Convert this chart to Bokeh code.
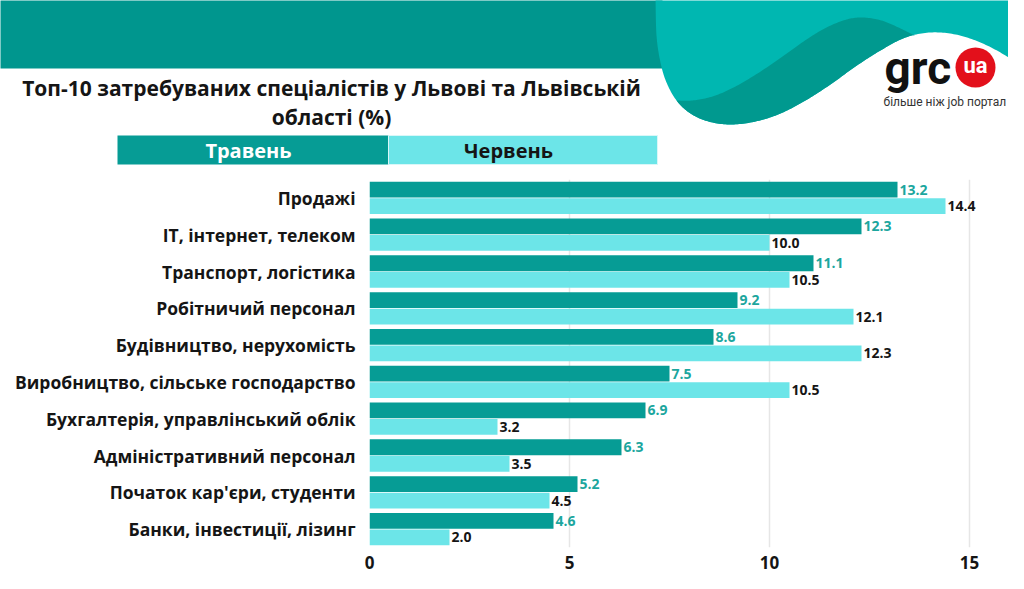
import numpy as np
from bokeh.plotting import figure
from bokeh.models import ColumnDataSource, FactorRange, Range1d, FixedTicker
from bokeh.transform import dodge
from bokeh.core.properties import value
from bokeh.embed import file_html
from bokeh.resources import INLINE

# ---------------- data ----------------
categories = ["Продажі", "IT, інтернет, телеком", "Транспорт, логістика",
              "Робітничий персонал", "Будівництво, нерухомість",
              "Виробництво, сільське господарство",
              "Бухгалтерія, управлінський облік", "Адміністративний персонал",
              "Початок кар'єри, студенти", "Банки, інвестиції, лізинг"]
may = [13.2, 12.3, 11.1, 9.2, 8.6, 7.5, 6.9, 6.3, 5.2, 4.6]
june = [14.4, 10.0, 10.5, 12.1, 12.3, 10.5, 3.2, 3.5, 4.5, 2.0]
series_names = ["Травень", "Червень"]
x_ticks = [0, 5, 10, 15]
title_lines = ["Топ-10 затребуваних спеціалістів у Львові та Львівській", "області (%)"]

# ---------------- styles ----------------
FONT = "Open Sans"
DARK = "#069C95"
LIGHT = "#6CE5E8"
BAND = "#00968E"
LOBE = "#00B7B1"
WAVE = "#00998F"
VAL_DARK = "#1CA69E"
TXT = "#151515"

W = 1008
H_TOP = 176
H_BOT = 573 - H_TOP


def smooth(pts, n=14):
    P = np.array(pts, float)
    P = np.vstack([P[0], P, P[-1]])
    out = []
    t = np.linspace(0, 1, n, endpoint=False)[:, None]
    for i in range(1, len(P) - 2):
        p0, p1, p2, p3 = P[i - 1], P[i], P[i + 1], P[i + 2]
        seg = 0.5 * ((2 * p1) + (-p0 + p2) * t + (2 * p0 - 5 * p1 + 4 * p2 - p3) * t ** 2
                     + (-p0 + 3 * p1 - 3 * p2 + p3) * t ** 3)
        out.append(seg)
    out.append(P[-2][None, :])
    return np.vstack(out)


# ---------------- top (header) figure, pixel coordinates ----------------
top = figure(width=W, height=H_TOP, x_range=Range1d(0, W), y_range=Range1d(H_TOP, 0),
             output_backend="svg", toolbar_location=None, x_axis_location=None,
             y_axis_location=None, min_border=0, tools="")
top.outline_line_color = None
top.grid.visible = False
top.background_fill_color = "white"
top.border_fill_color = "white"

# dark band
top.quad(left=-5, right=662, top=-5, bottom=68, fill_color=BAND, line_color=None)

# light lobe
lobe_edge = [(655, -5), (656, 35), (660, 62), (666, 82), (676, 100), (690, 113), (708, 121),
             (730, 124), (755, 121), (780, 113), (805, 100), (830, 84), (855, 66), (880, 50),
             (905, 37), (930, 32), (955, 34), (980, 42), (1005, 55), (1030, 72)]
L = smooth(lobe_edge)
lobe_poly = np.vstack([L, [[1030, -5]]])
top.patch(lobe_poly[:, 0], lobe_poly[:, 1], fill_color=LOBE, line_color=None)

# darker wave inside the lobe
wave_top = [(676, 100), (692, 100), (712, 96), (733, 87), (757, 73), (782, 56), (806, 39),
            (826, 27), (846, 19), (863, 17), (881, 20), (898, 27), (914, 35)]
U = smooth(wave_top)
i_start = int(np.argmin(np.hypot(L[:, 0] - 676, L[:, 1] - 100)))
i_end = int(np.argmin(np.hypot(L[:, 0] - 914, L[:, 1] - 35)))
wave_poly = np.vstack([U, L[i_end:i_start - 1:-1]])
top.patch(wave_poly[:, 0], wave_poly[:, 1], fill_color=WAVE, line_color=None)

# logo
top.text(x=[884], y=[67], text=["grc"], text_font=value("Roboto"), text_font_style="bold",
         text_font_size="46px", text_color="#111111", text_baseline="middle", text_align="left")
top.scatter(x=[975], y=[67], marker="circle", size=40, fill_color="#E3101B", line_color=None)
top.text(x=[975], y=[65], text=["ua"], text_font=value("Roboto"), text_font_style="bold",
         text_font_size="22px", text_color="white", text_baseline="middle", text_align="center")
top.text(x=[883], y=[101], text=["більше ніж job портал"], text_font=value("Roboto"),
         text_font_size="12px", text_color="#333333", text_baseline="middle", text_align="left")

# title
top.text(x=[331, 331], y=[87, 116], text=title_lines, text_font=value(FONT),
         text_font_style="bold", text_font_size="21px", text_color=TXT,
         text_baseline="middle", text_align="center")

# legend
top.quad(left=[117], right=[388], top=[135], bottom=[164], fill_color=DARK, line_color=None)
top.quad(left=[388], right=[657], top=[135], bottom=[164], fill_color=LIGHT,
         line_color="#d9f7f8", line_width=1)
top.text(x=[248, 508], y=[150, 150], text=series_names, text_font=value(FONT),
         text_font_style="bold", text_font_size="20px", text_color=["white", TXT],
         text_baseline="middle", text_align="center")

# ---------------- bottom (chart) figure ----------------
src = ColumnDataSource(dict(
    cat=categories, may=may, june=june,
    may_lbl=[f"{v:.1f}" for v in may], june_lbl=[f"{v:.1f}" for v in june]))

p = figure(width=W, height=H_BOT, y_range=FactorRange(factors=list(reversed(categories))),
           x_range=Range1d(0, 15.5), output_backend="svg", toolbar_location=None, tools="",
           min_border_left=369, min_border_right=19, min_border_top=3, min_border_bottom=26)
p.outline_line_color = None
p.background_fill_color = "white"
p.border_fill_color = "white"
p.y_range.range_padding = 0

off = 0.224
bh = 0.43
p.hbar(y=dodge("cat", off, range=p.y_range), right="may", left=0, height=bh, source=src,
       fill_color=DARK, line_color=None)
p.hbar(y=dodge("cat", -off, range=p.y_range), right="june", left=0, height=bh, source=src,
       fill_color=LIGHT, line_color=None)

p.text(x="may", y=dodge("cat", off, range=p.y_range), text="may_lbl", source=src,
       x_offset=2, text_baseline="middle", text_align="left", text_font=value(FONT),
       text_font_style="bold", text_font_size="14px", text_color=VAL_DARK)
p.text(x="june", y=dodge("cat", -off, range=p.y_range), text="june_lbl", source=src,
       x_offset=2, text_baseline="middle", text_align="left", text_font=value(FONT),
       text_font_style="bold", text_font_size="14px", text_color=TXT)

p.xaxis.ticker = FixedTicker(ticks=x_ticks)
p.xgrid.ticker = FixedTicker(ticks=x_ticks)
p.xgrid.grid_line_color = "#e6e6e6"
p.xgrid.grid_line_width = 1.5
p.ygrid.grid_line_color = None

for ax in (p.xaxis, p.yaxis):
    ax.axis_line_color = None
    ax.major_tick_line_color = None
    ax.minor_tick_line_color = None
    ax.major_label_text_font = FONT
    ax.major_label_text_font_style = "bold"
    ax.major_label_text_color = TXT

p.xaxis.major_label_text_font_size = "17px"
p.xaxis.major_label_standoff = 2
p.yaxis.major_label_text_font_size = "17.5px"
p.yaxis.major_label_standoff = 8

open("out.html", "w").write(file_html([top, p], INLINE))
